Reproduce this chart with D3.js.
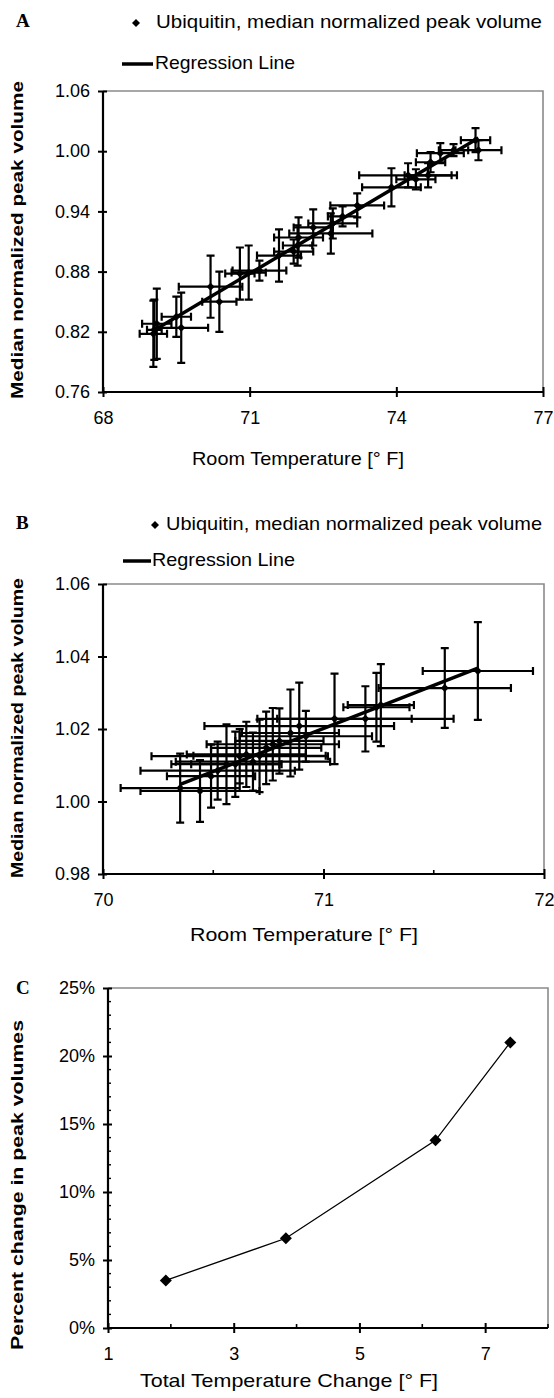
<!DOCTYPE html>
<html><head><meta charset="utf-8">
<script src="https://cdn.jsdelivr.net/npm/d3@7"></script>
<style>
body{margin:0;background:#fff}
svg{display:block}
text{font-family:"Liberation Sans",Arial,sans-serif;fill:#000}
</style>
</head><body>
<svg id="chart" width="554" height="1398"></svg>
<script>
// ---------- Panel A data ----------
const tempA    = [69.03,69.10,69.05,69.60,69.50,70.20,70.38,70.80,70.98,71.20,71.60,71.98,71.90,72.00,72.30,72.66,72.70,72.90,73.20,73.90,74.24,74.40,74.65,74.70,74.90,75.17,75.62,75.68];
const volA     = [0.818,0.828,0.822,0.824,0.835,0.865,0.850,0.878,0.879,0.881,0.896,0.906,0.900,0.914,0.924,0.918,0.928,0.935,0.946,0.964,0.976,0.972,0.976,0.989,0.998,1.001,1.011,1.001];
const tempErrA = [0.28,0.30,0.15,0.55,0.30,0.65,0.35,0.30,0.35,0.55,0.45,0.30,0.40,0.50,0.40,0.85,0.50,0.30,0.55,0.60,1.00,0.40,0.48,0.30,0.48,0.30,0.30,0.47];
const volErrA  = [0.033,0.035,0.030,0.035,0.020,0.031,0.030,0.026,0.027,0.010,0.026,0.020,0.012,0.020,0.018,0.020,0.015,0.010,0.012,0.019,0.012,0.010,0.012,0.010,0.010,0.006,0.012,0.010];
const xTicksA  = [68,71,74,77];
const yTicksA  = [0.76,0.82,0.88,0.94,1.00,1.06];

// ---------- Panel B data ----------
const tempB    = [70.35,70.44,70.49,70.52,70.56,70.60,70.62,70.65,70.68,70.71,70.74,70.77,70.80,70.85,70.89,70.92,71.05,71.19,71.24,71.26,71.55,71.70];
const volB     = [1.0037,1.0029,1.0070,1.0085,1.0103,1.0103,1.0125,1.0130,1.0110,1.0126,1.0148,1.0158,1.0167,1.0189,1.0208,1.0180,1.0228,1.0228,1.0260,1.0266,1.0313,1.0360];
const tempErrB = [0.27,0.27,0.20,0.35,0.25,0.20,0.40,0.27,0.35,0.30,0.25,0.30,0.20,0.22,0.43,0.30,0.35,0.40,0.15,0.15,0.30,0.25];
const volErrB  = [0.0095,0.0085,0.0087,0.0080,0.0110,0.0090,0.0075,0.0090,0.0080,0.0100,0.0100,0.0100,0.0090,0.0120,0.0120,0.0070,0.0125,0.0090,0.0095,0.0113,0.0110,0.0135];
const xTicksB  = [70,71,72];
const xMinorB  = [70.5,71.5];
const yTicksB  = [0.98,1.00,1.02,1.04,1.06];

// ---------- Panel C data ----------
const tempChangeC = [1.92,3.83,6.21,7.40];
const pctChangeC  = [3.5,6.6,13.8,21.0];
const xTicksC  = [1,3,5,7];
const xMinorC  = [2,4,6,8];
const yTicksC  = [0,5,10,15,20,25];
const yMinorC  = d3.range(0,26,1).filter(v=>v%5!==0);

const svg = d3.select("#chart");
const diamond = s => `M0,${-s}L${s},0L0,${s}L${-s},0Z`;

function frame(g, x, y){
  const [x0,x1]=x.range(), [y0,y1]=y.range();
  g.append("path").attr("d",`M${x0},${y1}H${x1}V${y0}`)
    .attr("fill","none").attr("stroke","#8a8a8a").attr("stroke-width",1.6);
}

function crossAxes(g, x, y, xt, yt, xfmt, yfmt, xMinor, yMinor){
  const [x0,x1]=x.range(), [y0,y1]=y.range();
  const yAx = g.append("g").attr("transform",`translate(${x0},0)`)
     .call(d3.axisLeft(y).tickValues(yt).tickSize(5).tickFormat(yfmt).tickPadding(8));
  yAx.select(".domain").remove();
  yAx.selectAll(".tick line").attr("x1",4).attr("x2",-5).attr("stroke","#000").attr("stroke-width",2);
  yAx.selectAll(".tick text").style("font-size","18px").style("font-family","Liberation Sans, Arial, sans-serif").attr("fill","#000");
  const xAx = g.append("g").attr("transform",`translate(0,${y0})`)
     .call(d3.axisBottom(x).tickValues(xt).tickSize(5).tickFormat(xfmt).tickPadding(14));
  xAx.select(".domain").remove();
  xAx.selectAll(".tick line").attr("y1",-5).attr("y2",5).attr("stroke","#000").attr("stroke-width",2);
  xAx.selectAll(".tick text").style("font-size","18px").style("font-family","Liberation Sans, Arial, sans-serif").attr("fill","#000");
  if(xMinor) g.selectAll(null).data(xMinor).enter().append("line")
     .attr("x1",d=>x(d)).attr("x2",d=>x(d)).attr("y1",y0).attr("y2",y0-4)
     .attr("stroke","#000").attr("stroke-width",1.6);
  if(yMinor) g.selectAll(null).data(yMinor).enter().append("line")
     .attr("x1",x0).attr("x2",x0+3).attr("y1",d=>y(d)).attr("y2",d=>y(d))
     .attr("stroke","#000").attr("stroke-width",1.4);
  g.append("path").attr("d",`M${x0},${y1}V${y0}H${x1}`)
    .attr("fill","none").attr("stroke","#000").attr("stroke-width",2.2);
}

function yTitle(g, txt, cx, cy, len){
  g.append("text").attr("transform",`translate(${cx},${cy}) rotate(-90)`)
   .attr("text-anchor","middle").attr("dominant-baseline","middle")
   .style("font-size","17px").style("font-weight","bold")
   .attr("textLength",len).attr("lengthAdjust","spacingAndGlyphs").text(txt);
}
function xTitle(g, txt, cx, cy, len){
  g.append("text").attr("x",cx).attr("y",cy).attr("text-anchor","middle")
   .attr("dominant-baseline","middle").style("font-size","19px")
   .attr("textLength",len).attr("lengthAdjust","spacingAndGlyphs").text(txt);
}
function letter(g, t, x, y){
  g.append("text").attr("x",x).attr("y",y).attr("dominant-baseline","middle")
   .style("font-family","Liberation Serif, Times New Roman, serif").style("font-weight","bold")
   .style("font-size","19px").text(t);
}
function legend(g, ly1, ly2, dx, tx1, tlen1, lx0, lx1, tx2, tlen2){
  g.append("path").attr("d",diamond(4))
   .attr("transform",`translate(${dx},${ly1})`).attr("fill","#000");
  g.append("text").attr("x",tx1).attr("y",ly1).attr("dominant-baseline","middle")
   .style("font-size","19px").attr("textLength",tlen1).attr("lengthAdjust","spacingAndGlyphs")
   .text("Ubiquitin, median normalized peak volume");
  g.append("line").attr("x1",lx0).attr("x2",lx1).attr("y1",ly2).attr("y2",ly2)
   .attr("stroke","#000").attr("stroke-width",3.5);
  g.append("text").attr("x",tx2).attr("y",ly2).attr("dominant-baseline","middle")
   .style("font-size","19px").attr("textLength",tlen2).attr("lengthAdjust","spacingAndGlyphs")
   .text("Regression Line");
}

function regression(xs, ys){
  const mx=d3.mean(xs), my=d3.mean(ys);
  let sxy=0,sxx=0;
  xs.forEach((v,i)=>{sxy+=(v-mx)*(ys[i]-my); sxx+=(v-mx)*(v-mx);});
  const b=sxy/sxx, a=my-b*mx;
  return v=>a+b*v;
}

function scatterPanel(opt){
  const g = svg.append("g");
  const x = d3.scaleLinear().domain(opt.xd).range([opt.left,opt.right]);
  const y = d3.scaleLinear().domain(opt.yd).range([opt.bottom,opt.top]);
  frame(g,x,y);
  const pts = opt.t.map((t,i)=>({t, v:opt.v[i], et:opt.et[i], ev:opt.ev[i]}));
  const cap=4;
  const eb = g.append("g").attr("stroke","#000").attr("stroke-width",2.2).attr("fill","none");
  pts.forEach(p=>{
    const px=x(p.t), py=y(p.v);
    const xl=x(p.t-p.et), xr=x(p.t+p.et), yt=y(p.v+p.ev), yb=y(p.v-p.ev);
    eb.append("path").attr("d",
      `M${xl},${py}H${xr}M${xl},${py-cap}V${py+cap}M${xr},${py-cap}V${py+cap}`+
      `M${px},${yt}V${yb}M${px-cap},${yt}H${px+cap}M${px-cap},${yb}H${px+cap}`);
  });
  const f = regression(opt.t, opt.v);
  const ext = d3.extent(opt.t);
  g.append("line").attr("x1",x(ext[0])).attr("x2",x(ext[1]))
   .attr("y1",y(f(ext[0]))).attr("y2",y(f(ext[1])))
   .attr("stroke","#000").attr("stroke-width",3.5);
  g.selectAll(null).data(pts).enter().append("path")
   .attr("d",diamond(4)).attr("transform",d=>`translate(${x(d.t)},${y(d.v)})`).attr("fill","#000");
  crossAxes(g,x,y,opt.xt,opt.yt,d3.format("d"),d3.format(".2f"),opt.xMinor,null);
  return g;
}

// ---------- Panel A ----------
const gA = scatterPanel({xd:[68,77], yd:[0.76,1.06], left:103, right:543, top:91, bottom:392,
  t:tempA, v:volA, et:tempErrA, ev:volErrA, xt:xTicksA, yt:yTicksA});
letter(gA,"A",16,23);
legend(gA,23,64,136,156,386,122,153,155,140);
xTitle(gA,"Room Temperature [° F]",298,460,212);
yTitle(gA,"Median normalized peak volume",19,240,318);

// ---------- Panel B ----------
const gB = scatterPanel({xd:[70,72], yd:[0.98,1.06], left:103, right:544, top:584, bottom:874,
  t:tempB, v:volB, et:tempErrB, ev:volErrB, xt:xTicksB, yt:yTicksB, xMinor:xMinorB});
letter(gB,"B",16,525);
legend(gB,525,561,155,166,376,123,151,152,143);
xTitle(gB,"Room Temperature [° F]",304,936,228);
yTitle(gB,"Median normalized peak volume",19,728,300);

// ---------- Panel C ----------
(function(){
  const g = svg.append("g");
  const x = d3.scaleLinear().domain([1,8]).range([108,548]);
  const y = d3.scaleLinear().domain([0,25]).range([1328,988]);
  frame(g,x,y);
  crossAxes(g,x,y,xTicksC,yTicksC,d3.format("d"),d=>d+"%",xMinorC,yMinorC);
  const pts = tempChangeC.map((t,i)=>[x(t),y(pctChangeC[i])]);
  g.append("path").attr("d",d3.line()(pts)).attr("fill","none")
   .attr("stroke","#000").attr("stroke-width",1.3);
  g.selectAll(null).data(pts).enter().append("path")
   .attr("d",diamond(6))
   .attr("transform",d=>`translate(${d[0]},${d[1]})`).attr("fill","#000");
  letter(g,"C",16,990);
  xTitle(g,"Total Temperature Change [° F]",289,1382,298);
  yTitle(g,"Percent change in peak volumes",19,1185,330);
})();
</script>
</body></html>
